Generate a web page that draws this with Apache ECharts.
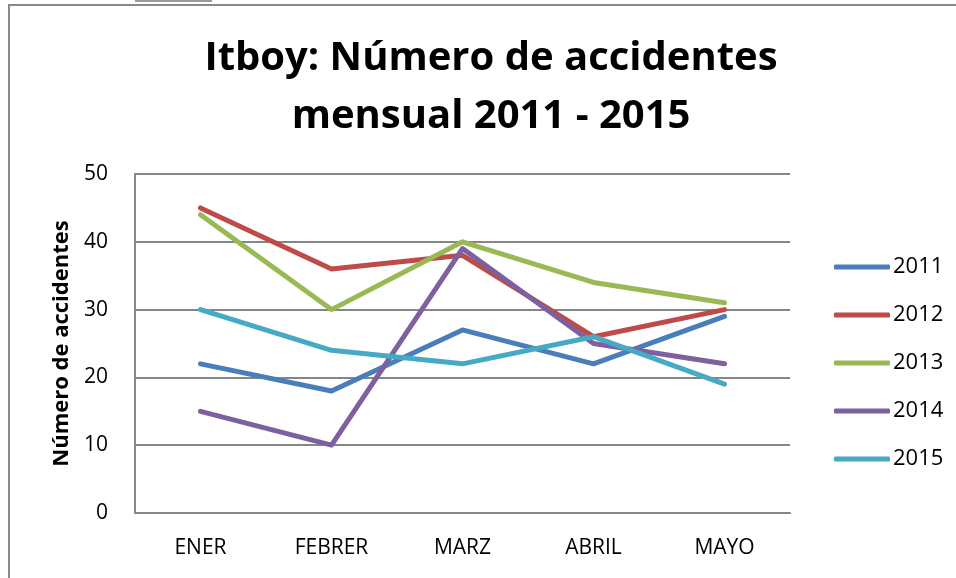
<!DOCTYPE html>
<html>
<head>
<meta charset="utf-8">
<script src="https://cdn.jsdelivr.net/npm/echarts@6/dist/echarts.min.js"></script>
<style>
  html, body { margin: 0; padding: 0; background: #fff; }
  #chart { width: 956px; height: 578px; position: relative; }
  .frame {
    position: absolute; left: 8px; top: 4px; width: 960px; height: 600px;
    border-top: 2px solid #8a8a8a; border-left: 2px solid #8a8a8a;
    pointer-events: none; z-index: 2;
  }
  .tab {
    position: absolute; left: 135px; top: 0; width: 77px; height: 2px;
    background: #9a9a9a; z-index: 2;
  }
</style>
</head>
<body>
<div id="chart"></div>
<div class="frame"></div>
<div class="tab"></div>
<script>
const months = ['ENER', 'FEBRER', 'MARZ', 'ABRIL', 'MAYO']
const years = ['2011', '2012', '2013', '2014', '2015']
const v2011 = [22, 18, 27, 22, 29]
const v2012 = [45, 36, 38, 26, 30]
const v2013 = [44, 30, 40, 34, 31]
const v2014 = [15, 10, 39, 25, 22]
const v2015 = [30, 24, 22, 26, 19]
const yTicks = [0, 10, 20, 30, 40, 50]

const colors = ['#4a7ebb', '#be4b48', '#98b954', '#7d60a0', '#46aac5']
const values = [v2011, v2012, v2013, v2014, v2015]

const chart = echarts.init(document.getElementById('chart'))
const font = '"Open Sans", "Noto Sans", sans-serif'

chart.setOption({
  animation: false,
  title: {
    text: 'Itboy: Número de accidentes\nmensual 2011 - 2015',
    left: 486,
    textAlign: 'center',
    top: 25,
    textStyle: { fontFamily: font, fontWeight: 'bold', fontSize: 40, lineHeight: 58, color: '#000' },
  },
  legend: {
    orient: 'vertical',
    left: 829,
    top: 251,
    icon: 'roundRect',
    itemWidth: 56,
    itemHeight: 5,
    itemGap: 26,
    textStyle: { fontFamily: font, fontSize: 22, lineHeight: 22, color: '#000', padding: [0, 0, 0, -2] },
    data: years,
  },
  grid: { left: 135, right: 166, top: 174, bottom: 65, containLabel: false },
  xAxis: {
    type: 'category',
    data: months,
    boundaryGap: true,
    axisLine: { lineStyle: { color: '#868686', width: 2 } },
    axisTick: { show: false },
    axisLabel: { fontFamily: font, fontSize: 21, color: '#000', margin: 25 },
  },
  yAxis: {
    type: 'value',
    min: yTicks[0],
    max: yTicks[yTicks.length - 1],
    interval: 10,
    name: 'Número de accidentes',
    nameLocation: 'middle',
    nameGap: 62,
    nameTextStyle: { fontFamily: font, fontWeight: 'bold', fontSize: 22, color: '#000' },
    axisLine: { show: true, lineStyle: { color: '#868686', width: 2 } },
    axisTick: { show: false },
    axisLabel: { fontFamily: font, fontSize: 21, color: '#000', margin: 27 },
    splitLine: { lineStyle: { color: '#868686', width: 2 } },
  },
  series: years.map((y, i) => ({
    name: y,
    type: 'line',
    data: values[i],
    symbol: 'none',
    color: colors[i],
    lineStyle: { color: colors[i], width: 5, cap: 'round', join: 'round' },
    itemStyle: { color: colors[i] },
  })),
})
</script>
</body>
</html>
